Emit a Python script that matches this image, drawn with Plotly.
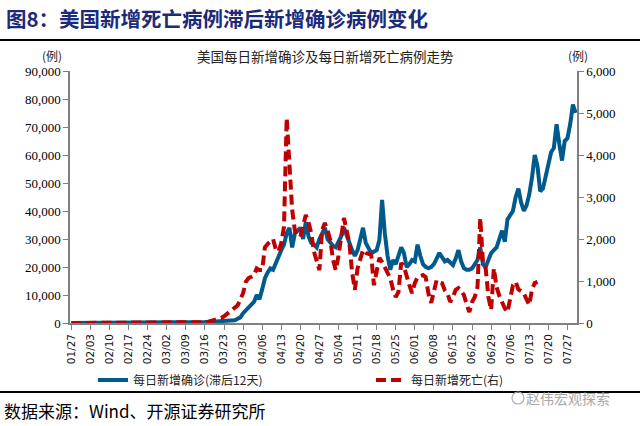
import pandas as pd
import plotly.graph_objects as go

# categories: daily dates 2020-01-27 .. 2020-07-30
dates = list(pd.date_range("2020-01-27", "2020-07-30").strftime("%m/%d"))
tick_labels = dates[::7]

# daily new confirmed cases, lagged 12 days (left axis)
confirmed_lag12 = [
    0, 0, 0, 0, 1, 0, 0, 0, 1, 0, 0, 0, 0, 1, 0, 0, 0, 0, 0, 0,
    1, 0, 0, 0, 0, 0, 0, 0, 0, 1, 0, 0, 3, 5, 8,
    10, 15, 20, 25, 30, 40, 60, 80, 100, 120, 150, 190, 230, 280, 330,
    380, 420, 460, 500, 560, 620, 680, 760, 850, 950,
    1000, 1500, 2000, 3500, 4500, 5500, 6500, 7500, 10000, 8500,
    12000, 16000, 18000, 19500, 19000, 21500, 24000, 26000, 28000, 32000,
    34000, 27000, 32000, 33000, 34000, 30000, 36000, 31000, 28600, 28000,
    27000, 30000, 32000, 34000, 30000, 28600, 27500, 27000, 29000, 31000,
    34000, 31000, 28600, 26000, 24000, 26000, 30000, 34000, 28600, 26500,
    25000, 25500, 26000, 29600, 44000, 32000, 24000, 19000, 22500, 21000,
    24000, 27000, 25000, 20000, 21000, 22500, 22000, 28000, 24000, 21000,
    20000, 19600, 20000, 21000, 23000, 25000, 23500, 22000, 22500, 21500,
    20700, 23000, 26000, 22000, 19600, 19000, 19000, 19500, 21000, 22500,
    27000, 21000, 20000, 22500, 25000, 26000, 27000, 30000, 33000, 29000,
    37000, 38500, 40000, 45000, 48000, 43000, 40000, 42000, 46000, 52000,
    60000, 56000, 47000, 48000, 52000, 56000, 61000, 62500, 71000, 64000,
    58000, 65000, 66000, 71000, 78000, 75000,
]

# daily new deaths (right axis), ends 07/17
deaths = [
    0, 0, 0, 0, 0, 0, 0, 0, 0, 0, 0, 0, 0, 0, 0, 0, 0, 0, 0, 0,
    0, 0, 0, 0, 0, 0, 0, 0, 0, 0, 0, 0, 0, 0,
    1, 1, 2, 5, 3, 4, 4, 8, 3, 7, 9, 10, 12, 16, 15, 20,
    25, 40, 55, 80, 100, 120, 160, 210, 260, 300,
    350, 420, 560, 710, 980, 1070, 1100, 1140, 1300, 1260,
    1260, 1800, 1880, 1930, 2000, 1750, 1700, 1900, 2290, 4880,
    3900, 2700, 2200, 2100, 2050, 2300, 2570, 2400, 2140, 1700,
    1430, 1260, 2210, 2380, 2200, 1980, 1500, 1260, 1600, 2050,
    2500, 2200, 1900, 1200, 790,
    1300, 1500, 1740, 1670, 1640, 1620, 900, 1260, 1550, 1450,
    1310, 1200, 1070, 800, 620, 740, 1430, 1350, 1100, 900,
    710, 950, 1090, 1120, 1140, 1090, 700, 480, 710, 1020,
    980, 950, 780, 700, 500, 620, 790, 830, 760, 670,
    450, 260, 500, 620, 860, 2500, 1450, 1300, 620, 310,
    1300, 850, 650, 480, 350, 260, 600, 900, 980, 800,
    760, 710, 560, 430, 800, 950, 980,
]

left_ticks = [0, 10000, 20000, 30000, 40000, 50000, 60000, 70000, 80000, 90000]
right_ticks = [0, 1000, 2000, 3000, 4000, 5000, 6000]

BLUE = "#005a8c"
RED = "#c00000"
CJK = "Noto Sans CJK SC"
SERIF = "Liberation Serif"

fig = go.Figure()
fig.add_trace(go.Scatter(
    x=dates[:len(confirmed_lag12)], y=confirmed_lag12, mode="lines",
    name="每日新增确诊(滞后12天)", legend="legend",
    line=dict(color=BLUE, width=4),
))
fig.add_trace(go.Scatter(
    x=dates[:len(deaths)], y=deaths, mode="lines", yaxis="y2",
    name="每日新增死亡(右)", legend="legend2",
    line=dict(color=RED, width=4, dash="10px,5px"),
))

axis_col = "#808080"
W, L, R = 640, 70, 577
T, B = 71, 323


def px(x):
    return (x - L) / (R - L)


def py(y):
    return (B - y) / (B - T)


leg_common = dict(
    orientation="h", yanchor="middle", xanchor="left",
    font=dict(family=CJK, size=12, color="#222"),
    bgcolor="rgba(0,0,0,0)",
)

fig.update_layout(
    width=640, height=426,
    margin=dict(l=70, r=63, t=71, b=103),
    paper_bgcolor="white", plot_bgcolor="white",
    showlegend=True,
    legend=dict(x=px(93), y=py(380), **leg_common),
    legend2=dict(x=px(371), y=py(380), **leg_common),
    xaxis=dict(
        type="category", categoryorder="array", categoryarray=dates,
        range=[-0.5, len(dates) - 0.5],
        tickmode="array", tickvals=tick_labels, ticktext=tick_labels,
        tickangle=-90, ticks="outside", ticklen=5, tickcolor=axis_col,
        showline=True, linecolor=axis_col, linewidth=1.5,
        showgrid=False, zeroline=False,
        tickfont=dict(family="DejaVu Sans", size=10.5, color="#111"),
    ),
    yaxis=dict(
        range=[0, 90000], tickmode="array", tickvals=left_ticks,
        ticktext=[f"{v:,}" for v in left_ticks],
        ticks="outside", ticklen=5, tickcolor=axis_col,
        showline=True, linecolor=axis_col, linewidth=1.5,
        showgrid=False, zeroline=False,
        tickfont=dict(family=SERIF, size=13, color="#000"),
    ),
    yaxis2=dict(
        overlaying="y", side="right",
        range=[0, 6000], tickmode="array", tickvals=right_ticks,
        ticktext=[f"{v:,}" for v in right_ticks],
        ticks="outside", ticklen=5, tickcolor=axis_col,
        showline=True, linecolor=axis_col, linewidth=1.5,
        showgrid=False, zeroline=False,
        tickfont=dict(family=SERIF, size=13, color="#000"),
    ),
)

annotations = [
    dict(text="<b>图8：美国新增死亡病例滞后新增确诊病例变化</b>", x=px(4), y=py(18),
         xanchor="left", yanchor="middle", showarrow=False,
         font=dict(family=CJK, size=20.5, color="#1c2a7a")),
    dict(text="美国每日新增确诊及每日新增死亡病例走势", x=px(325), y=py(56),
         xanchor="center", yanchor="middle", showarrow=False,
         font=dict(family=CJK, size=13.5, color="#222")),
    dict(text="(例)", x=px(52), y=py(55), xanchor="center", yanchor="middle",
         showarrow=False, font=dict(family=CJK, size=12, color="#222")),
    dict(text="(例)", x=px(578), y=py(55), xanchor="center", yanchor="middle",
         showarrow=False, font=dict(family=CJK, size=12, color="#222")),
    dict(text="数据来源：Wind、开源证券研究所", x=px(2), y=py(410),
         xanchor="left", yanchor="middle", showarrow=False,
         font=dict(family=CJK, size=17, color="#000")),
    dict(text="赵伟宏观探索", x=px(612), y=py(398), xanchor="right", yanchor="middle",
         showarrow=False, font=dict(family=CJK, size=14, color="#a8a8a8")),
]
for a in annotations:
    a["xref"] = "paper"
    a["yref"] = "paper"
fig.update_layout(annotations=annotations)

fig.add_shape(type="line", xref="paper", yref="paper",
              x0=px(0), x1=px(W), y0=py(40), y1=py(40),
              line=dict(color="#000", width=2))
fig.add_shape(type="line", xref="paper", yref="paper",
              x0=px(0), x1=px(W), y0=py(392), y1=py(392),
              line=dict(color="#000", width=2))
fig.add_shape(type="circle", xref="paper", yref="paper",
              x0=px(512), x1=px(524), y0=py(392), y1=py(404),
              line=dict(color="#b0b0b0", width=1.2))

fig.write_html(
    "out.html",
    config={"displayModeBar": False},
    post_script="document.body.style.margin='0';document.body.style.overflow='hidden';",
)
